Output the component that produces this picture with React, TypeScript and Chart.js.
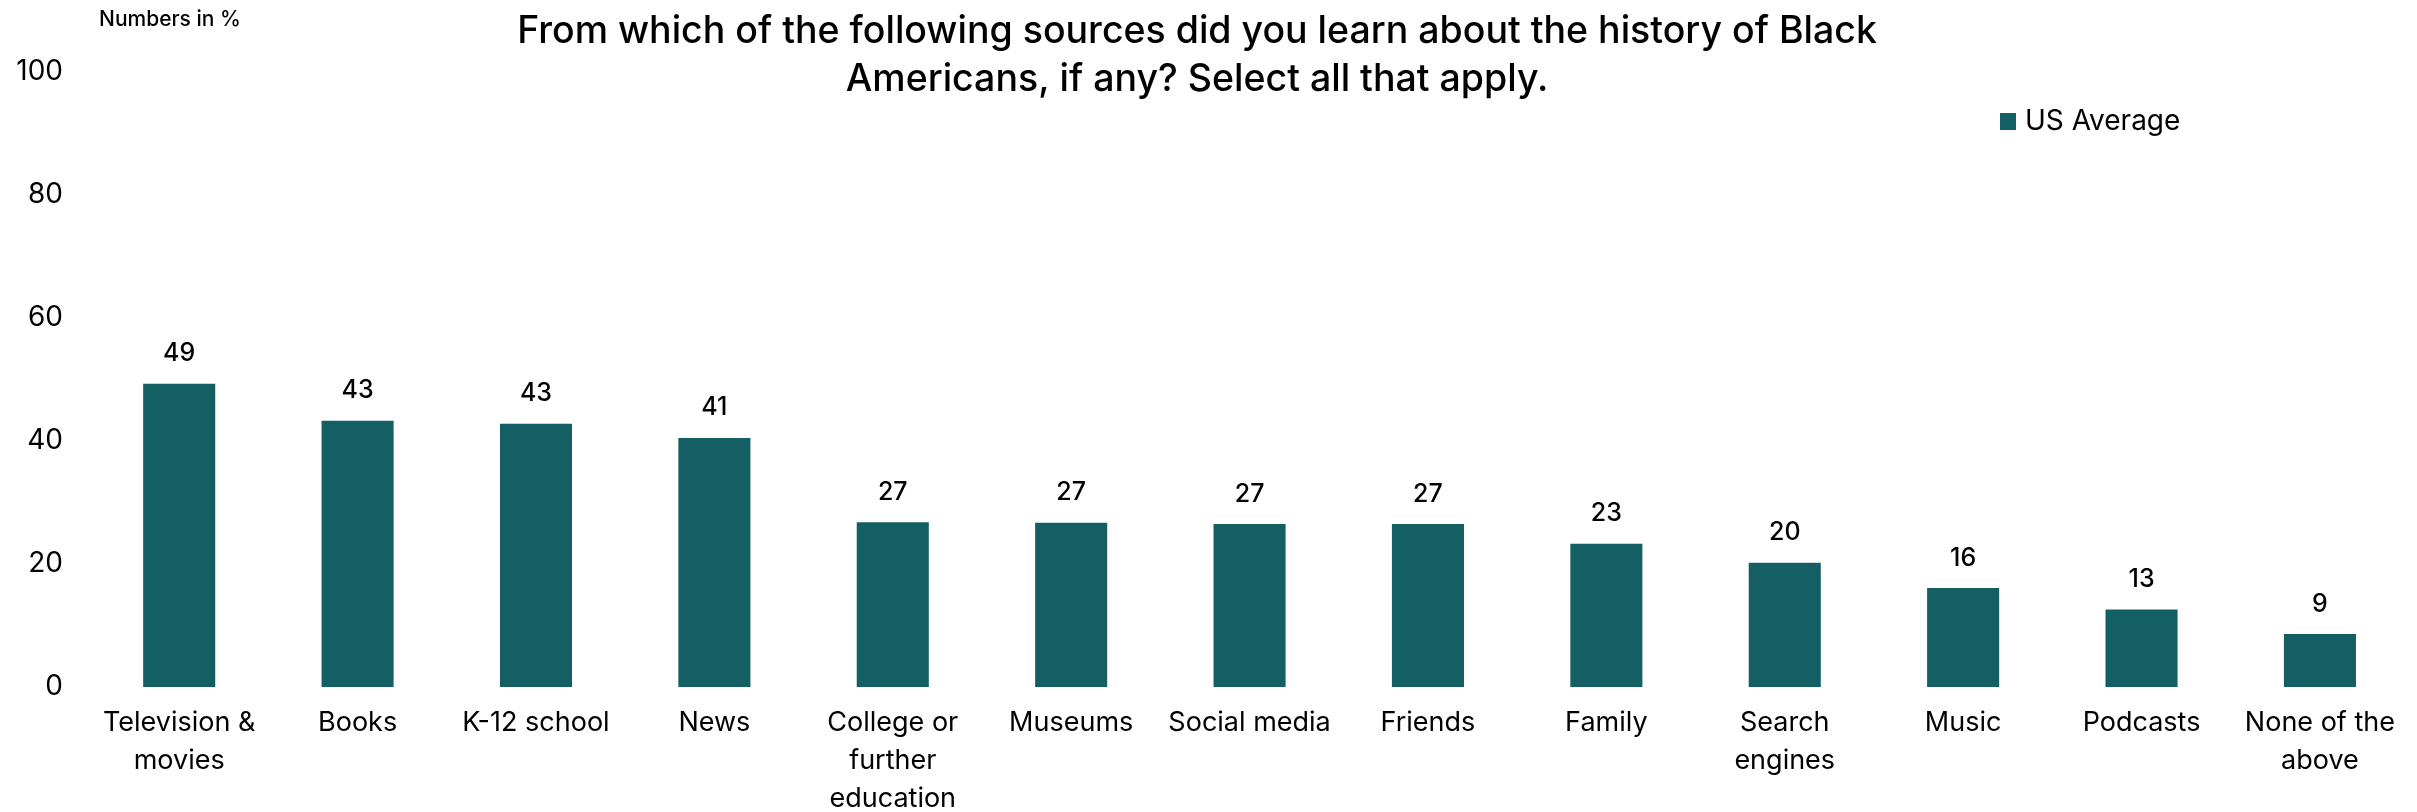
import React, { useEffect, useRef } from "react";
import { Chart, registerables } from "chart.js";

Chart.register(...registerables);

const categories: (string | string[])[] = [
  ["Television &", "movies"],
  "Books",
  "K-12 school",
  "News",
  ["College or", "further", "education"],
  "Museums",
  "Social media",
  "Friends",
  "Family",
  ["Search", "engines"],
  "Music",
  "Podcasts",
  ["None of the", "above"],
];

const usAverage: number[] = [49.3, 43.3, 42.8, 40.5, 26.8, 26.7, 26.5, 26.5, 23.3, 20.2, 16.1, 12.6, 8.6];
const valueLabels: string[] = ["49", "43", "43", "41", "27", "27", "27", "27", "23", "20", "16", "13", "9"];

const titleLines: string[] = [
  "From which of the following sources did you learn about the history of Black",
  "Americans, if any? Select all that apply.",
];
const unitNote = "Numbers in %";
const seriesName = "US Average";
const yTicks = { min: 0, max: 100, step: 20 };

const BAR_COLOR = "#135F63";
const FONT = "Inter, 'Noto Sans', sans-serif";

const overlayPlugin = {
  id: "overlay",
  afterDatasetsDraw(chart: any) {
    const ctx = chart.ctx;
    ctx.save();
    // value labels
    const meta = chart.getDatasetMeta(0);
    ctx.fillStyle = "#000";
    ctx.font = `500 25px ${FONT}`;
    ctx.textAlign = "center";
    ctx.textBaseline = "middle";
    meta.data.forEach((el: any, i: number) => {
      ctx.fillText(valueLabels[i], el.x, el.y - 30);
    });
    // unit note
    ctx.font = `500 21px ${FONT}`;
    ctx.textAlign = "left";
    ctx.fillText(unitNote, 91, 12);
    // title
    ctx.font = `500 37.5px ${FONT}`;
    ctx.textAlign = "center";
    ctx.fillText(titleLines[0], 1189, 24);
    ctx.fillText(titleLines[1], 1189, 72);
    // legend
    ctx.fillStyle = BAR_COLOR;
    ctx.fillRect(1992, 105, 16, 17);
    ctx.fillStyle = "#000";
    ctx.font = `400 28px ${FONT}`;
    ctx.textAlign = "left";
    ctx.fillText(seriesName, 2017, 114);
    ctx.restore();
  },
};

export default function App() {
  const canvasRef = useRef<HTMLCanvasElement | null>(null);

  useEffect(() => {
    if (!canvasRef.current) return;
    const chart = new Chart(canvasRef.current, {
      type: "bar",
      data: {
        labels: categories,
        datasets: [
          {
            label: seriesName,
            data: usAverage,
            backgroundColor: BAR_COLOR,
            borderWidth: 0,
            barPercentage: 0.404,
            categoryPercentage: 1.0,
          },
        ],
      },
      options: {
        animation: false,
        responsive: true,
        maintainAspectRatio: false,
        layout: { padding: { top: 64, right: 0, bottom: 0, left: 0 } },
        plugins: {
          legend: { display: false },
          title: { display: false },
          tooltip: { enabled: false },
        },
        scales: {
          x: {
            grid: { display: false, drawTicks: false },
            border: { display: false },
            ticks: {
              autoSkip: false,
              maxRotation: 0,
              minRotation: 0,
              padding: 17,
              color: "#000",
              font: { family: FONT, size: 27, weight: "400", lineHeight: 1.4 },
            },
            afterFit: (scale: any) => {
              scale.height = 125;
            },
          },
          y: {
            min: yTicks.min,
            max: yTicks.max,
            grid: { display: false, drawTicks: false },
            border: { display: false },
            ticks: {
              stepSize: yTicks.step,
              padding: 27,
              color: "#000",
              font: { family: FONT, size: 28, weight: "400" },
            },
            afterFit: (scale: any) => {
              scale.width = 82;
            },
          },
        },
      },
      plugins: [overlayPlugin],
    });
    return () => chart.destroy();
  }, []);

  return (
    <div style={{ position: "fixed", left: 8, top: 8, width: 2404, height: 804 }}>
      <canvas ref={canvasRef} />
    </div>
  );
}
